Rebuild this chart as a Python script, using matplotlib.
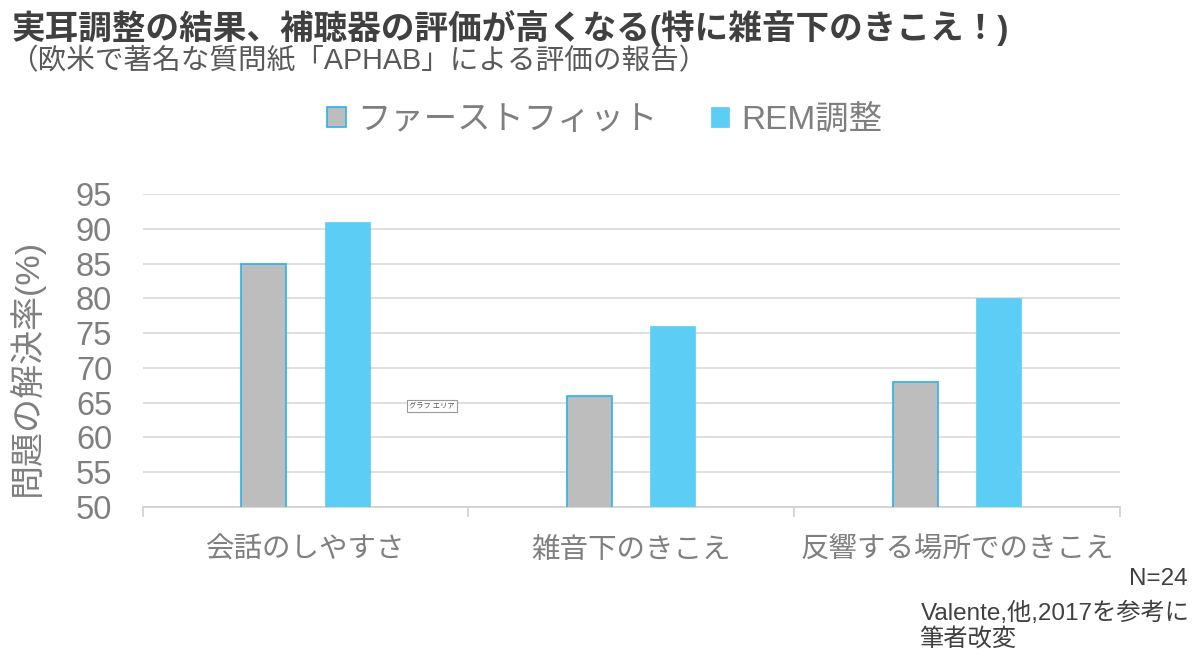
import matplotlib
matplotlib.use("Agg")
import matplotlib.pyplot as plt
import numpy as np

plt.rcParams['font.family'] = ['Liberation Sans', 'Noto Sans CJK JP', 'DejaVu Sans']

# data
categories = ['会話のしやすさ', '雑音下のきこえ', '反響する場所でのきこえ']
first_fit = [85, 66, 68]
rem_fit = [91, 76, 80]
series_names = ['ファーストフィット', 'REM調整']
yticks = list(range(50, 100, 5))

grey_txt = '#7f7f7f'
fig = plt.figure(figsize=(12, 6.59), dpi=100)
ax = fig.add_axes([0.119, 0.2307, 0.814, 0.475])

x = np.arange(len(categories))
w = 0.138
off = 0.128
b1 = ax.bar(x - off, first_fit, w, color='#bdbdbd', edgecolor='#29b3ea',
            linewidth=1.2, label=series_names[0], zorder=3)
b2 = ax.bar(x + off, rem_fit, w, color='#5ccdf4', edgecolor='#5ccdf4',
            linewidth=0.5, label=series_names[1], zorder=3)

ax.set_xlim(-0.5, 2.5)
ax.set_ylim(50, 95)
ax.set_yticks(yticks)
ax.yaxis.grid(True, color='#d9d9d9', linewidth=1.2, zorder=0)
ax.set_axisbelow(True)
for s in ['top', 'right', 'left']:
    ax.spines[s].set_visible(False)
ax.spines['bottom'].set_color('#d0d0d0')
ax.spines['bottom'].set_linewidth(1.2)

ax.tick_params(axis='y', length=0, labelsize=23.5, labelcolor=grey_txt, pad=22)
ax.set_xticks(x)
ax.set_xticklabels(categories, fontsize=20.5, color=grey_txt)
ax.tick_params(axis='x', which='major', length=0, pad=22)
ax.set_xticks([-0.5, 0.5, 1.5, 2.5], minor=True)
ax.tick_params(axis='x', which='minor', length=7, color='#d0d0d0', width=1.2)

ax.set_ylabel('問題の解決率(%)', fontsize=24.5, color=grey_txt)
ax.yaxis.set_label_coords(-0.101, 0.447)

leg = fig.legend(handles=[b1, b2], loc='center', bbox_to_anchor=(0.504, 0.817), ncol=2,
                 frameon=False, fontsize=24, handlelength=0.55, handleheight=0.55,
                 handletextpad=0.35, columnspacing=1.6)
for t in leg.get_texts():
    t.set_color(grey_txt)

fig.text(0.01, 0.958, '実耳調整の結果、補聴器の評価が高くなる(特に雑音下のきこえ！)',
         fontsize=24.2, fontweight='bold', color='#404040', va='center', ha='left')
fig.text(0.008, 0.907, '（欧米で著名な質問紙「APHAB」による評価の報告）',
         fontsize=20.6, color='#595959', va='center', ha='left')

# tooltip-like label
ax.text(0.388, 64.5, 'グラフ エリア', fontsize=5.2, color='#555555', ha='center', va='center',
        bbox=dict(boxstyle='square,pad=0.35', fc='white', ec='#999999', lw=0.8), zorder=5)

fig.text(0.99, 0.122, 'N=24', fontsize=17.5, color='#404040', ha='right', va='center')
fig.text(0.767, 0.049, 'Valente,他,2017を参考に\n筆者改変', fontsize=17.5, color='#404040',
         ha='left', va='center', linespacing=1.15)

fig.savefig('out.png', dpi=100)
